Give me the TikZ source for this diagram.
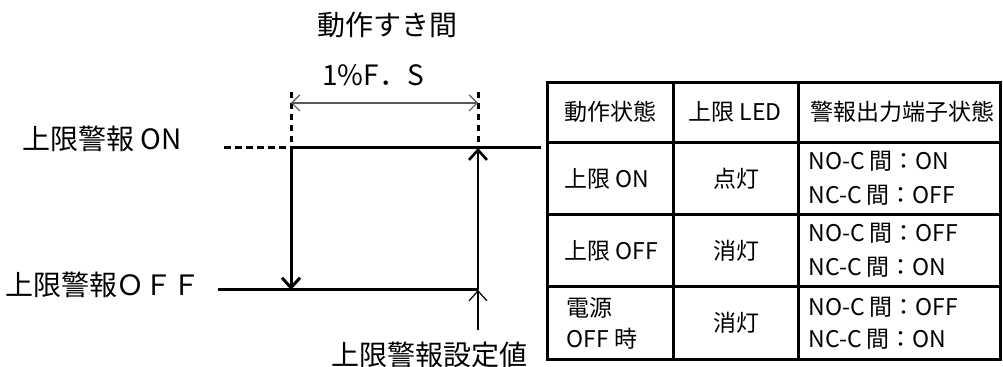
\documentclass[tikz,border=0pt]{standalone}
\usepackage{fontspec}
\setmainfont{Noto Sans CJK JP}
\usetikzlibrary{arrows.meta, positioning}
\tikzset{
  signal_line/.style={line width=1.5pt, black},
  on_dash/.style={line width=1.5pt, black, dash pattern=on 3.5pt off 2pt},
  guide_line/.style={line width=1.5pt, black, dash pattern=on 3pt off 2.5pt},
  gap_arrow/.style={{Straight Barb[length=4pt,width=8pt]}-{Straight Barb[length=4pt,width=8pt]}, line width=0.6pt, black!65},
  down_arrow/.style={-{Straight Barb[length=5pt,width=9pt,line width=1.5pt]}, line width=1.5pt},
  set_arrow/.style={-{Straight Barb[length=5pt,width=9pt]}, line width=0.6pt},
  top_arrow/.style={-{Straight Barb[length=5pt,width=9pt,line width=1.3pt]}, line width=0.6pt},
  label_text/.style={font=\fontsize{14pt}{16pt}\selectfont, inner sep=0pt},
  cell_text/.style={font=\fontsize{11.5pt}{14pt}\selectfont, inner sep=0pt},
  table_line/.style={line width=1.5pt}
}
\begin{document}
\begin{tikzpicture}[x=0.5pt, y=-0.5pt]
  \useasboundingbox (0,0) rectangle (1003,367);

  % labels round the loop
  \node[label_text] (gap_title) at (387,25) {動作すき間};
  \node[label_text] (gap_value) at (373,75) {1\%F．S};
  \node[label_text] (on_label) at (102,139) {上限警報 ON};
  \node[label_text] (off_label) at (103,285) {上限警報ＯＦＦ};
  \node[label_text] (set_label) at (429,355) {上限警報設定値};

  % corner points of the loop
  \coordinate (on_start) at (224,148);
  \coordinate (on_left) at (291,148);
  \coordinate (on_right) at (478,148);
  \coordinate (on_end) at (541,148);
  \coordinate (off_start) at (218,290);
  \coordinate (off_left) at (291,290);
  \coordinate (off_right) at (478,290);
  \coordinate (set_foot) at (478,330);
  \coordinate (guide_left) at (291,92);
  \coordinate (guide_right) at (478,92);
  \coordinate (gap_left) at (291,103);
  \coordinate (gap_right) at (478,103);

  % loop
  \draw[on_dash] (on_start) -- (on_left);
  \draw[signal_line] (on_left) -- (on_end);
  \draw[signal_line] (off_start) -- (off_right);
  \draw[down_arrow] (on_left) -- (off_left);
  \draw[set_arrow] (set_foot) -- (off_right);
  \draw[top_arrow] (off_right) -- (on_right);

  % hysteresis width
  \draw[guide_line] (guide_left) -- (on_left);
  \draw[guide_line] (guide_right) -- (on_right);
  \draw[gap_arrow] (gap_left) -- (gap_right);

  % state table
  \draw[table_line] (547,83) rectangle (1000,360);
  \foreach \ry in {143,215,287}
    \draw[table_line] (547,\ry) -- (1000,\ry);
  \foreach \cx in {673,798}
    \draw[table_line] (\cx,83) -- (\cx,360);

  \node[cell_text] (head_state) at (610,112) {動作状態};
  \node[cell_text] (head_led) at (735,112) {上限 LED};
  \node[cell_text, anchor=west] (head_out) at (810,112) {警報出力端子状態};

  \node[cell_text, anchor=west] (state_on) at (564,179) {上限 ON};
  \node[cell_text] (led_on) at (736,179) {点灯};
  \node[cell_text, anchor=west] (out_on_a) at (808,161) {NO-C 間：ON};
  \node[cell_text, anchor=west] (out_on_b) at (808,195) {NC-C 間：OFF};

  \node[cell_text, anchor=west] (state_off) at (564,251) {上限 OFF};
  \node[cell_text] (led_off) at (736,251) {消灯};
  \node[cell_text, anchor=west] (out_off_a) at (808,233) {NO-C 間：OFF};
  \node[cell_text, anchor=west] (out_off_b) at (808,267) {NC-C 間：ON};

  \node[cell_text, anchor=west] (state_pw_a) at (566,308) {電源};
  \node[cell_text, anchor=west] (state_pw_b) at (566,339) {OFF 時};
  \node[cell_text] (led_pw) at (736,323) {消灯};
  \node[cell_text, anchor=west] (out_pw_a) at (808,307) {NO-C 間：OFF};
  \node[cell_text, anchor=west] (out_pw_b) at (808,339) {NC-C 間：ON};
\end{tikzpicture}
\end{document}
